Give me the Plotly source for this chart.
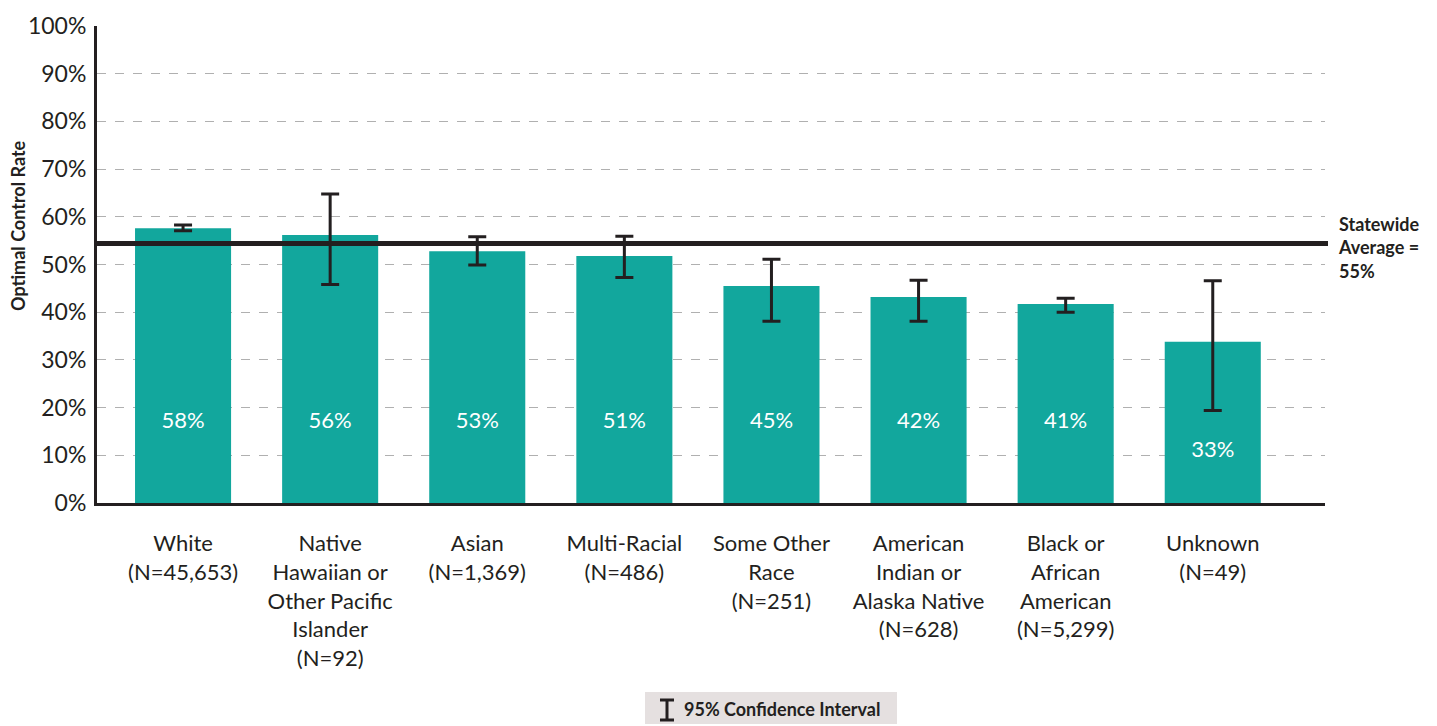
import plotly.graph_objects as go

categories = ['White<br>(N=45,653)',
              'Native<br>Hawaiian or<br>Other Pacific<br>Islander<br>(N=92)',
              'Asian<br>(N=1,369)',
              'Multi-Racial<br>(N=486)',
              'Some Other<br>Race<br>(N=251)',
              'American<br>Indian or<br>Alaska Native<br>(N=628)',
              'Black or<br>African<br>American<br>(N=5,299)',
              'Unknown<br>(N=49)']
rate = [57.6, 56.2, 52.8, 51.8, 45.5, 43.2, 41.7, 33.8]
rate_text = ['58%', '56%', '53%', '51%', '45%', '42%', '41%', '33%']
ci_low = [57.1, 45.8, 49.9, 47.3, 38.1, 38.1, 40.0, 19.4]
ci_high = [58.3, 64.8, 55.8, 55.9, 51.1, 46.7, 42.9, 46.6]
statewide = 54.4
statewide_text = '55%'
yticks = list(range(0, 101, 10))

W, H = 1437, 726
L, R, T, B = 97, 112, 26, 223
pw, ph = W - L - R, H - T - B
def px(x): return (x - L) / pw
def py(y): return (H - B - y) / ph

ink = '#231f20'
teal = '#12a79d'
font = 'Lato'

fig = go.Figure()
fig.add_trace(go.Bar(
    x=categories, y=rate, width=0.653, marker=dict(color=teal, line=dict(width=0)),
    error_y=dict(type='data', symmetric=False,
                 array=[h - v for h, v in zip(ci_high, rate)],
                 arrayminus=[v - l for l, v in zip(ci_low, rate)],
                 color=ink, thickness=3, width=9),
    showlegend=False, hoverinfo='skip'))

# value labels inside bars, pushed down below the lower CI end when needed
label_y = [min(16.9, lo - 8.6) for lo in ci_low]
fig.add_trace(go.Scatter(
    x=categories, y=label_y, mode='text', text=rate_text,
    textfont=dict(family=font, size=22, color='white'),
    showlegend=False, hoverinfo='skip'))

fig.add_shape(type='line', xref='paper', yref='y', x0=0, x1=px(1328),
              y0=statewide, y1=statewide, line=dict(color=ink, width=5))

fig.add_annotation(xref='paper', yref='paper', x=px(1336), y=py(247),
                   xanchor='left', yanchor='middle', align='left', showarrow=False,
                   text=f'<b>Statewide<br>Average =<br>{statewide_text}</b>',
                   font=dict(family=font, size=18, color=ink))

fig.add_annotation(xref='paper', yref='paper', x=px(18), y=py(226),
                   xanchor='center', yanchor='middle', showarrow=False, textangle=-90,
                   text='<b>Optimal Control Rate</b>',
                   font=dict(family=font, size=18, color=ink))

# confidence interval key
fig.add_shape(type='rect', xref='paper', yref='paper', x0=px(645), x1=px(897),
              y0=py(692), y1=py(724), fillcolor='#e5e0e0', line=dict(width=0))
for x0, y0, x1, y1 in [(667, 700, 667, 720), (660, 700, 674, 700), (660, 720, 674, 720)]:
    fig.add_shape(type='line', xref='paper', yref='paper', x0=px(x0), x1=px(x1),
                  y0=py(y0), y1=py(y1), line=dict(color=ink, width=3))
fig.add_annotation(xref='paper', yref='paper', x=px(682), y=py(709),
                   xanchor='left', yanchor='middle', showarrow=False,
                   text='<b>95% Confidence Interval</b>',
                   font=dict(family=font, size=18, color=ink))

fig.update_layout(
    width=W, height=H, margin=dict(l=L, r=R, t=T, b=B),
    plot_bgcolor='white', paper_bgcolor='white', bargap=0.3,
    xaxis=dict(range=[-0.585, 7.763], showline=True, linecolor=ink, linewidth=3,
               showgrid=False, ticks='', ticklabelstandoff=19,
               tickfont=dict(family=font, size=22, color=ink)),
    yaxis=dict(range=[0, 100], tickvals=yticks, ticktext=[f'{v}%' for v in yticks],
               showline=True, linecolor=ink, linewidth=3, zeroline=False,
               showgrid=True, gridcolor='#b0b0b0', gridwidth=1, griddash='dash',
               ticks='', ticklabelstandoff=3,
               tickfont=dict(family=font, size=23, color=ink)),
)

fig.write_html('out.html', config={'displayModeBar': False},
               post_script="document.body.style.margin='0';document.body.style.overflow='hidden';")
